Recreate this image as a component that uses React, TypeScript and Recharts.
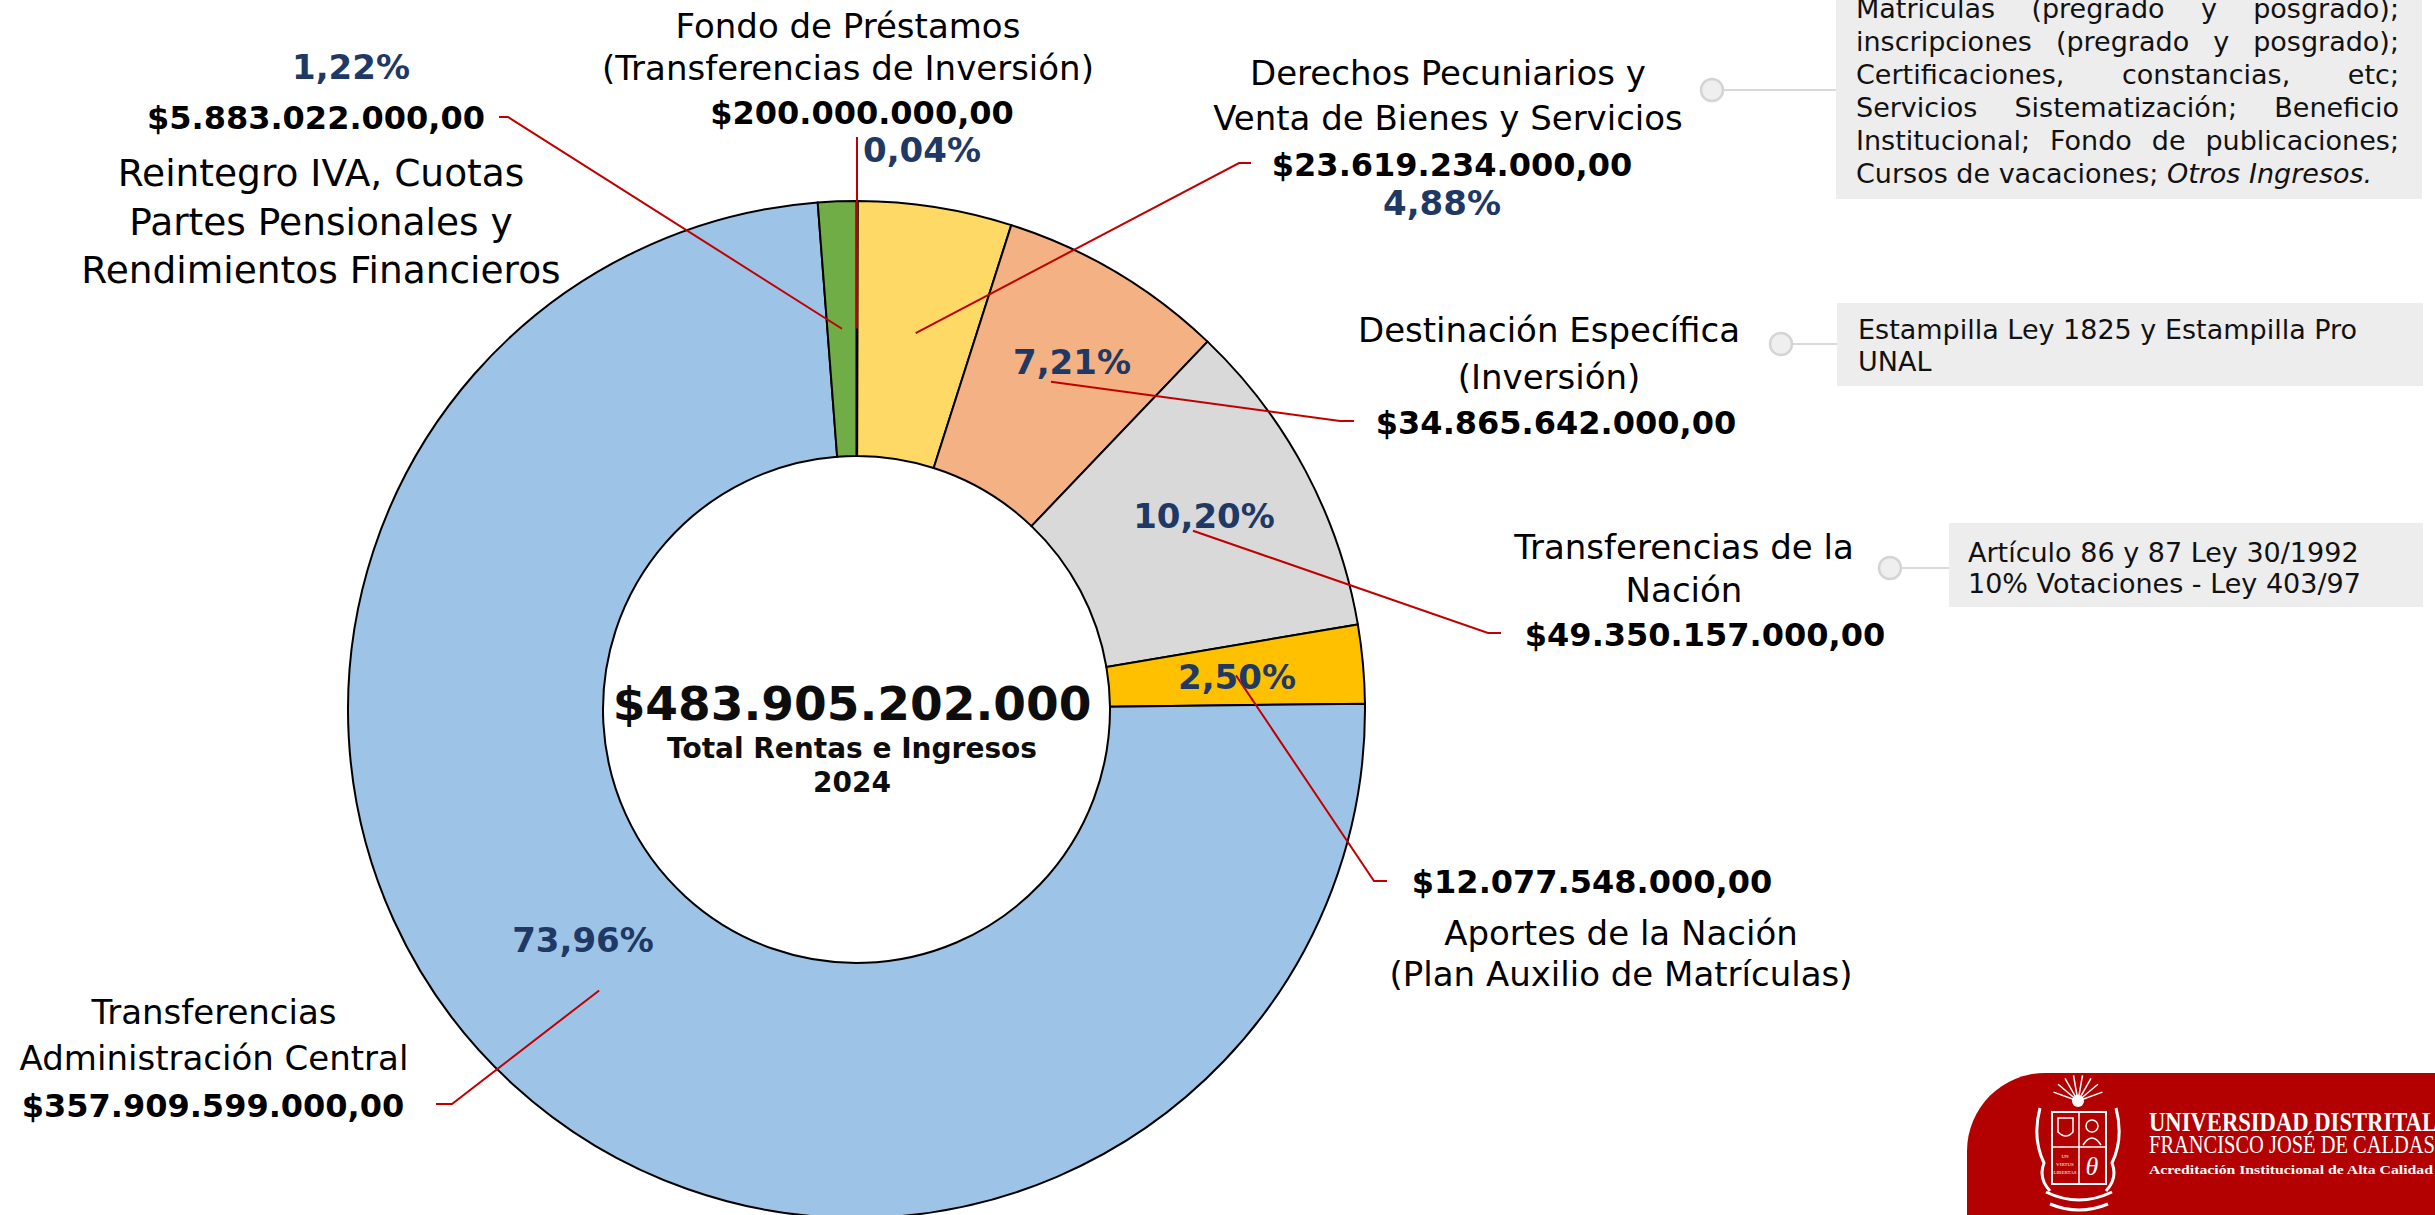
import { PieChart, Pie, Cell } from "recharts";

// ingresos 2024, de arriba en sentido horario
const categories = [
  "Fondo de Préstamos",
  "Derechos Pecuniarios y Venta de Bienes y Servicios",
  "Destinación Específica",
  "Transferencias de la Nación",
  "Aportes de la Nación",
  "Transferencias Administración Central",
  "Reintegro IVA, Cuotas Partes Pensionales y Rendimientos Financieros",
];

const nameLines = [
  ["Fondo de Préstamos", "(Transferencias de Inversión)"],
  ["Derechos Pecuniarios y", "Venta de Bienes y Servicios"],
  ["Destinación Específica", "(Inversión)"],
  ["Transferencias de la", "Nación"],
  ["Aportes de la Nación", "(Plan Auxilio de Matrículas)"],
  ["Transferencias", "Administración Central"],
  ["Reintegro IVA, Cuotas", "Partes Pensionales y", "Rendimientos Financieros"],
];

const values = [
  200000000, 23619234000, 34865642000, 49350157000, 12077548000,
  357909599000, 5883022000,
];

const colors = ["#4472C4", "#FFD966", "#F4B183", "#D9D9D9", "#FFC000", "#9DC3E6", "#70AD47"];

const totalTitle = ["Total Rentas e Ingresos", "2024"];

const noteMatriculas = [
  "Matriculas (pregrado y posgrado);",
  "inscripciones (pregrado y posgrado);",
  "Certificaciones, constancias, etc;",
  "Servicios Sistematización; Beneficio",
  "Institucional; Fondo de publicaciones;",
];
const noteMatriculasLast = ["Cursos de vacaciones; ", "Otros Ingresos."];
const noteEstampilla = ["Estampilla Ley 1825 y Estampilla Pro", "UNAL"];
const noteNacion = ["Artículo 86 y 87 Ley 30/1992", "10% Votaciones - Ley 403/97"];

// where each slice's texts sit
const spots = [
  { pct: [922, 150], knee: [857, 137], tip: [857, 137], money: [862, 113], names: [848, 26], gap: 42, size: 34 },
  { pct: [1442, 203], knee: [1239, 163], tip: [1251, 163], money: [1452, 165], names: [1448, 73], gap: 45, size: 34 },
  { pct: [1072, 362], knee: [1340, 421], tip: [1354, 421], money: [1556, 423], names: [1549, 330], gap: 47, size: 34 },
  { pct: [1204, 516], knee: [1488, 633], tip: [1501, 633], money: [1705, 635], names: [1684, 547], gap: 43, size: 34 },
  { pct: [1237, 677], knee: [1374, 881], tip: [1387, 881], money: [1592, 882], names: [1621, 933], gap: 41, size: 34 },
  { pct: [583, 940], knee: [452, 1104], tip: [436, 1104], money: [213, 1106], names: [214, 1012], gap: 46, size: 34 },
  { pct: [351, 67], knee: [508, 117], tip: [499, 117], money: [316, 118], names: [321, 173], gap: 48.5, size: 37.5 },
];

const FONT = '"DejaVu Sans", Verdana, sans-serif';
const RAD = Math.PI / 180;
const W = 2435;
const H = 1215;

const data = categories.map((name, i) => ({ name, value: values[i] }));
const total = values.reduce((a, b) => a + b, 0);

const dots = (v: number) => String(v).replace(/\B(?=(\d{3})+(?!\d))/g, ".");
const money = (v: number) => "$" + dots(v) + ",00";
const pctText = (v: number) => ((v / total) * 100).toFixed(2).replace(".", ",") + "%";

const renderLabel = (p: any) => {
  const { cx, cy, midAngle, innerRadius, outerRadius, index, value } = p;
  const r = (innerRadius + outerRadius) / 2;
  const sx = cx + r * Math.cos(-midAngle * RAD);
  const sy = cy + r * Math.sin(-midAngle * RAD);
  const s = spots[index];
  return (
    <g key={"lbl" + index}>
      <polyline
        points={`${sx},${sy} ${s.knee[0]},${s.knee[1]} ${s.tip[0]},${s.tip[1]}`}
        fill="none"
        stroke="#C00000"
        strokeWidth={2}
      />
      <text x={s.pct[0]} y={s.pct[1]} textAnchor="middle" dominantBaseline="central"
        fontFamily={FONT} fontWeight="bold" fontSize={34} fill="#203864">
        {pctText(value)}
      </text>
      <text x={s.money[0]} y={s.money[1]} textAnchor="middle" dominantBaseline="central"
        fontFamily={FONT} fontWeight="bold" fontSize={32} fill="#000">
        {money(value)}
      </text>
      {nameLines[index].map((t, i) => (
        <text key={i} x={s.names[0]} y={s.names[1] + i * s.gap} textAnchor="middle"
          dominantBaseline="central" fontFamily={FONT} fontSize={s.size} fill="#000">
          {t}
        </text>
      ))}
    </g>
  );
};

const boxText: React.CSSProperties = {
  position: "absolute",
  fontFamily: FONT,
  fontSize: 27,
  color: "#111",
  whiteSpace: "nowrap",
};

const Logo = () => {
  const rays = [-160, -140, -120, -100, -80, -60, -40, -20];
  return (
    <g>
      <rect x={1967} y={1073} width={700} height={300} rx={78} fill="#B30000" />
      {rays.map((a) => (
        <line key={a} x1={2078} y1={1101} x2={2078 + 26 * Math.cos(a * RAD)} y2={1101 + 26 * Math.sin(a * RAD)}
          stroke="#fff" strokeWidth={1.5} />
      ))}
      <circle cx={2078} cy={1101} r={6} fill="#fff" />
      <path d="M2040 1108 q-8 30 4 55 q-6 15 6 28 M2116 1108 q8 30 -4 55 q6 15 -6 28" stroke="#fff" strokeWidth={3} fill="none" />
      <rect x={2052} y={1112} width={54} height={72} fill="none" stroke="#fff" strokeWidth={2} />
      <line x1={2079} y1={1112} x2={2079} y2={1184} stroke="#fff" strokeWidth={1.5} />
      <line x1={2052} y1={1147} x2={2106} y2={1147} stroke="#fff" strokeWidth={1.5} />
      <path d="M2058 1118 h15 v14 q-7 8 -15 0 z" stroke="#fff" strokeWidth={1.5} fill="none" />
      <circle cx={2092} cy={1126} r={6} fill="none" stroke="#fff" strokeWidth={1.5} />
      <path d="M2083 1145 q9 -14 18 0" stroke="#fff" strokeWidth={1.5} fill="none" />
      <text x={2092} y={1175} textAnchor="middle" fontFamily="Liberation Serif" fontStyle="italic" fontSize={26} fill="#fff">θ</text>
      <text x={2065} y={1158} textAnchor="middle" fontFamily="Liberation Serif" fontSize={5} fill="#fff">UN</text>
      <text x={2065} y={1166} textAnchor="middle" fontFamily="Liberation Serif" fontSize={5} fill="#fff">VIRTUS</text>
      <text x={2065} y={1174} textAnchor="middle" fontFamily="Liberation Serif" fontSize={5} fill="#fff">LIBERTAS</text>
      <path d="M2046 1192 q33 16 66 0 M2050 1204 q29 12 58 0" stroke="#fff" strokeWidth={3} fill="none" />
      <text x={2149} y={1131} fontFamily="Liberation Serif" fontWeight="bold" fontSize={27} fill="#fff"
        textLength={288} lengthAdjust="spacingAndGlyphs">UNIVERSIDAD DISTRITAL</text>
      <text x={2149} y={1153} fontFamily="Liberation Serif" fontSize={25} fill="#fff"
        textLength={286} lengthAdjust="spacingAndGlyphs">FRANCISCO JOSÉ DE CALDAS</text>
      <text x={2149} y={1174} fontFamily="Liberation Serif" fontWeight="bold" fontSize={13} fill="#fff"
        textLength={284} lengthAdjust="spacingAndGlyphs">Acreditación Institucional de Alta Calidad</text>
    </g>
  );
};

const Connector = ({ x, y, to }: { x: number; y: number; to: number }) => (
  <g>
    <line x1={x + 12} y1={y} x2={to} y2={y} stroke="#D9D9D9" strokeWidth={2} />
    <circle cx={x} cy={y} r={11} fill="#EFEFEF" stroke="#D4D4D4" strokeWidth={2.5} />
  </g>
);

export default function App() {
  return (
    <div style={{ position: "absolute", left: 0, top: 0, width: W, height: H, overflow: "hidden", background: "#fff" }}>
      <div style={{ position: "absolute", left: 1836, top: -20, width: 586, height: 219, background: "#EDEDED" }} />
      <div style={{ position: "absolute", left: 1837, top: 303, width: 586, height: 83, background: "#EDEDED" }} />
      <div style={{ position: "absolute", left: 1949, top: 523, width: 474, height: 84, background: "#EDEDED" }} />

      <div style={{ ...boxText, left: 1856, top: -8.5, width: 543, lineHeight: "33px" }}>
        {noteMatriculas.map((t) => (
          <div key={t} style={{ textAlign: "justify", textAlignLast: "justify", height: 33, whiteSpace: "normal" }}>{t}</div>
        ))}
        <div style={{ height: 33 }}>
          {noteMatriculasLast[0]}
          <i>{noteMatriculasLast[1]}</i>
        </div>
      </div>
      <div style={{ ...boxText, left: 1858, top: 314, lineHeight: "32px" }}>
        {noteEstampilla.map((t) => <div key={t}>{t}</div>)}
      </div>
      <div style={{ ...boxText, left: 1968, top: 536.5, lineHeight: "31px" }}>
        {noteNacion.map((t) => <div key={t}>{t}</div>)}
      </div>

      <div style={{ position: "absolute", left: 0, top: 0 }}>
        <PieChart width={W} height={H} margin={{ top: 0, right: 0, bottom: 0, left: 0 }}>
          <Pie
            data={data}
            dataKey="value"
            nameKey="name"
            cx={856.5}
            cy={709.5}
            innerRadius={253.5}
            outerRadius={508.5}
            startAngle={90}
            endAngle={-270}
            stroke="#000"
            strokeWidth={2}
            label={renderLabel}
            labelLine={false}
            isAnimationActive={false}
          >
            {data.map((d, i) => (
              <Cell key={d.name} fill={colors[i]} />
            ))}
          </Pie>
        </PieChart>
      </div>

      <svg width={W} height={H} style={{ position: "absolute", left: 0, top: 0, pointerEvents: "none" }}>
        <text x={852} y={703} textAnchor="middle" dominantBaseline="central" fontFamily={FONT}
          fontWeight="bold" fontSize={47} fill="#0d0d0d">
          {"$" + dots(total)}
        </text>
        {totalTitle.map((t, i) => (
          <text key={t} x={852} y={748 + i * 34} textAnchor="middle" dominantBaseline="central"
            fontFamily={FONT} fontWeight="bold" fontSize={28} fill="#0d0d0d">
            {t}
          </text>
        ))}
        <Connector x={1712} y={90} to={1836} />
        <Connector x={1781} y={344} to={1837} />
        <Connector x={1890} y={568} to={1949} />
        <Logo />
      </svg>
    </div>
  );
}
